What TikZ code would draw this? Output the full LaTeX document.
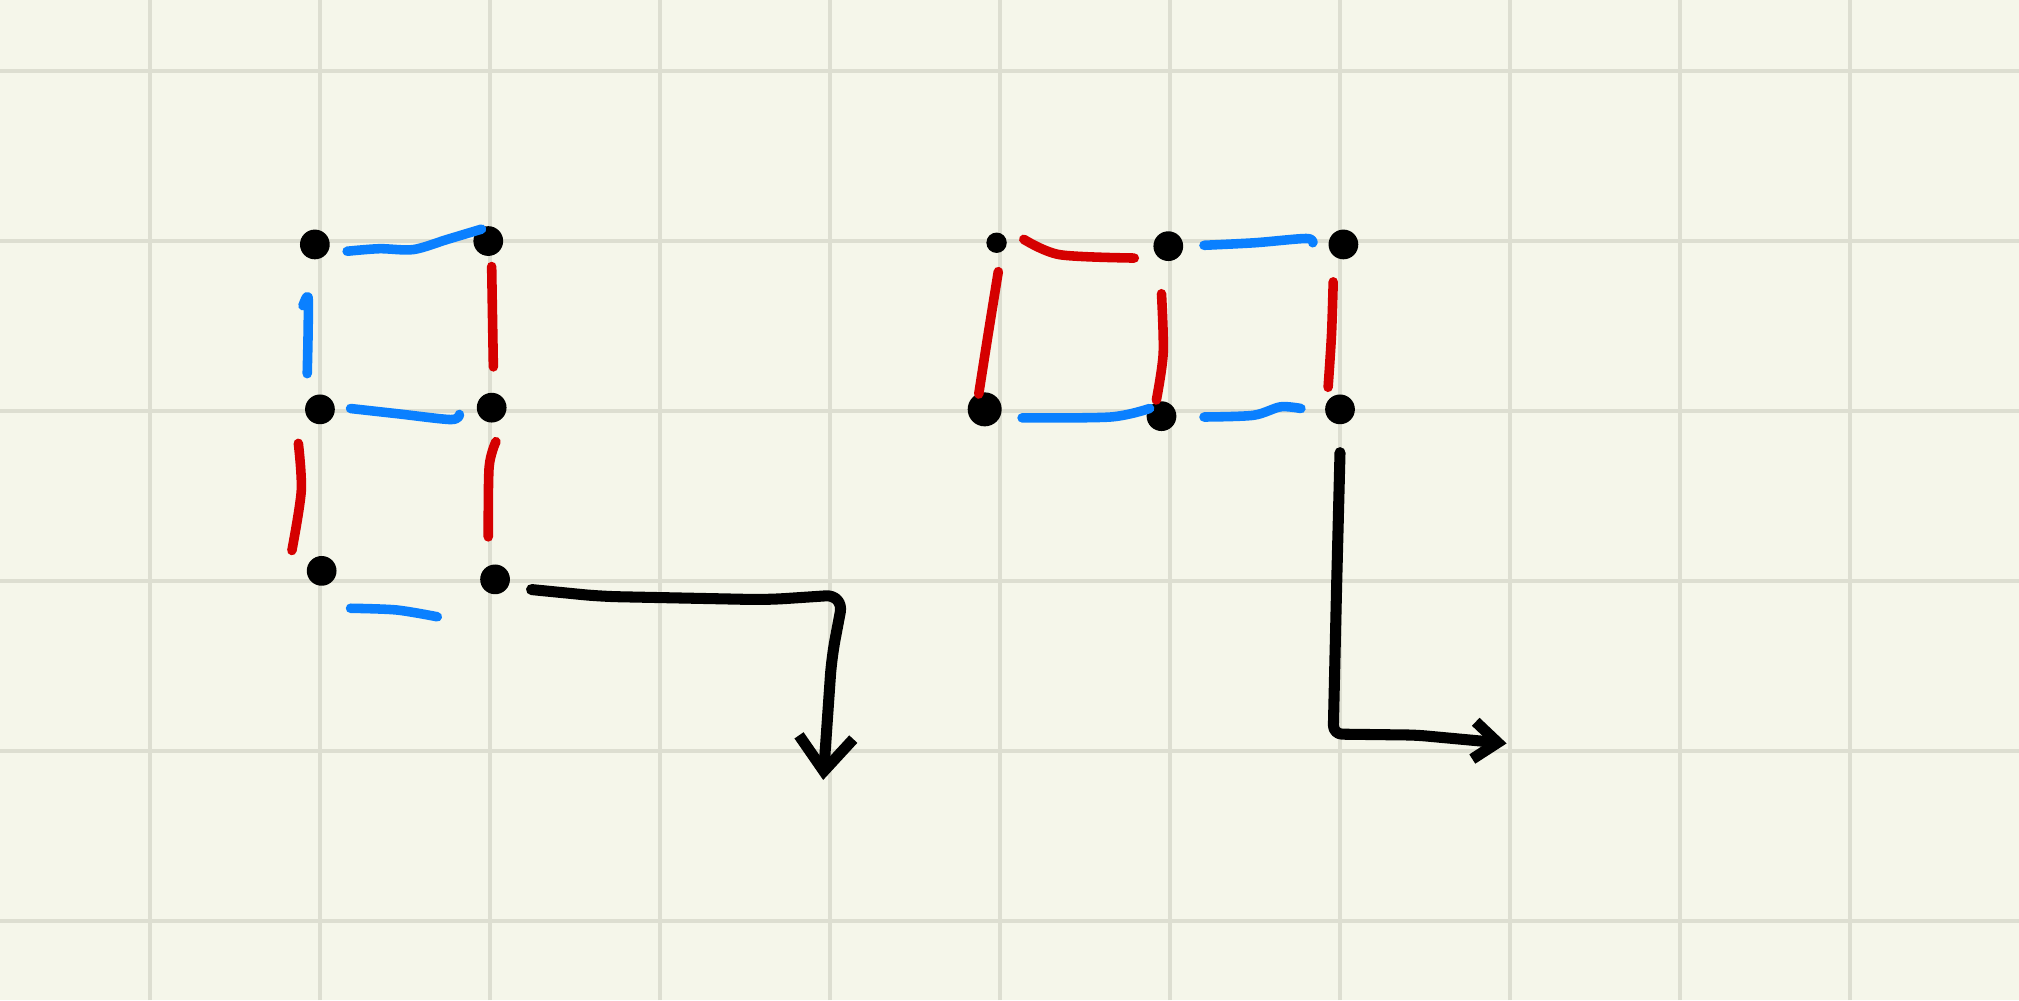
\documentclass[tikz,border=0pt]{standalone}
\usetikzlibrary{arrows.meta}

\definecolor{paper}{RGB}{245,246,234}
\definecolor{gridgray}{RGB}{221,222,209}
\definecolor{penblue}{RGB}{10,128,255}
\definecolor{penred}{RGB}{213,0,0}

\begin{document}
\begin{tikzpicture}[
    gridline/.style={gridgray, line width=0.8pt},
    pen/.style={line width=1.6pt, line cap=round, line join=round},
    bluepen/.style={pen, penblue},
    redpen/.style={pen, penred},
    blackpen/.style={pen, black, line width=1.85pt},
    dot/.style={circle, fill=black, inner sep=0pt, minimum size=1.75mm}]

        %Paper
        \useasboundingbox (-0.882,-0.465) rectangle (10.994,5.418);
        \fill [paper]       (-0.882,-0.465) rectangle (10.994,5.418);
        \draw [gridline]    (-0.882,-0.465) grid      (10.994,5.418);

        %Left digit dots
        \node [dot] (tl) at (0.97,3.98) {};
        \node [dot] (tr) at (1.99,4.00) {};
        \node [dot] (ml) at (1.00,3.01) {};
        \node [dot] (mr) at (2.01,3.02) {};
        \node [dot] (bl) at (1.01,2.06) {};
        \node [dot] (br) at (2.03,2.01) {};

        %Left digit segments
        \draw [bluepen] plot [smooth] coordinates {(1.16,3.94) (1.35,3.955) (1.55,3.95) (1.75,4.01) (1.95,4.07)};
        \draw [bluepen] plot [smooth] coordinates {(0.925,3.22) (0.93,3.45) (0.93,3.67) (0.90,3.62)};
        \draw [redpen]  plot [smooth] coordinates {(2.01,3.85) (2.015,3.55) (2.02,3.26)};
        \draw [bluepen] plot [smooth] coordinates {(1.18,3.015) (1.45,2.985) (1.77,2.95) (1.82,2.98)};
        \draw [redpen]  plot [smooth] coordinates {(0.873,2.81) (0.89,2.53) (0.835,2.18)};
        \draw [redpen]  plot [smooth] coordinates {(2.035,2.82) (1.995,2.67) (1.99,2.26)};
        \draw [bluepen] plot [smooth] coordinates {(1.18,1.84) (1.45,1.83) (1.69,1.79)};

        %Right digit dots
        \node [dot, minimum size=1.2mm] (a1) at (4.98,3.99) {};
        \node [dot]                     (a2) at (5.99,3.97) {};
        \node [dot]                     (a3) at (7.02,3.98) {};
        \node [dot, minimum size=2mm]   (b1) at (4.91,3.01) {};
        \node [dot]                     (b2) at (5.95,2.97) {};
        \node [dot]                     (b3) at (7.00,3.01) {};

        %Right digit segments
        \draw [redpen]  plot [smooth] coordinates {(5.14,4.01) (5.35,3.92) (5.79,3.90)};
        \draw [bluepen] plot [smooth] coordinates {(6.20,3.975) (6.50,3.99) (6.80,4.015) (6.84,3.99)};
        \draw [redpen]  plot [smooth] coordinates {(4.99,3.82) (4.93,3.45) (4.875,3.10)};
        \draw [redpen]  plot [smooth] coordinates {(5.95,3.69) (5.96,3.34) (5.92,3.065)};
        \draw [redpen]  plot [smooth] coordinates {(6.96,3.76) (6.95,3.45) (6.93,3.14)};
        \draw [bluepen] plot [smooth] coordinates {(5.13,2.96) (5.65,2.965) (5.88,3.015)};
        \draw [bluepen] plot [smooth] coordinates {(6.20,2.965) (6.49,2.975) (6.65,3.025) (6.77,3.015)};

        %Arrows
        \coordinate (down) at (3.96,0.83);
        \coordinate (right) at (7.98,1.045);
        \draw [blackpen, rounded corners=3pt, -{Straight Barb[length=2mm, width=3.2mm]}]
              ([shift={(0.12,-0.06)}]br.east) -- (2.65,1.91) -- (3.63,1.89) -- (4.08,1.92) -- (4.01,1.55) -- (down);
        \draw [blackpen, rounded corners=1.5pt, -{Straight Barb[length=1.4mm, width=2.2mm]}]
              ([yshift=-1.6mm]b3.south) -- (6.98,1.97) -- (6.96,1.10) -- (7.45,1.094) -- (right);

\end{tikzpicture}
\end{document}
